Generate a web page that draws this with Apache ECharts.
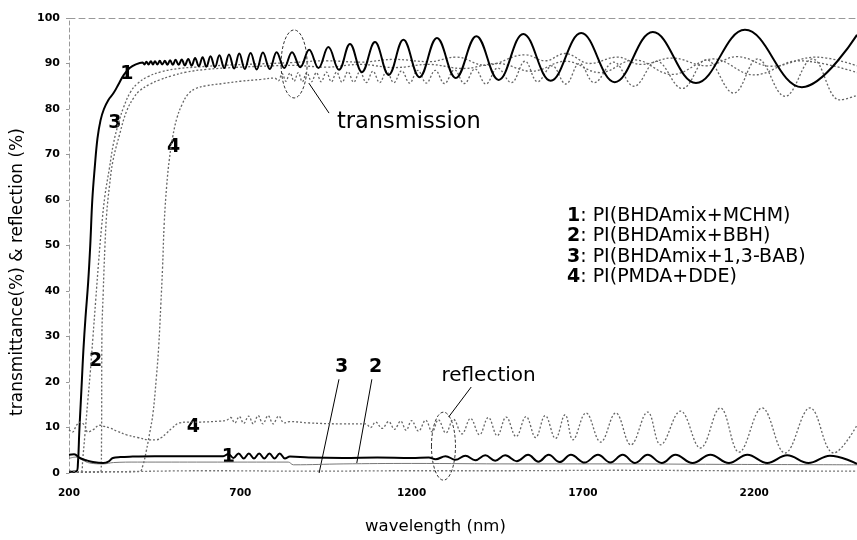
<!DOCTYPE html>
<html><head><meta charset="utf-8">
<script src="https://cdn.jsdelivr.net/npm/echarts@6/dist/echarts.min.js"></script>
<style>html,body{margin:0;padding:0;background:#fff}#c{width:857px;height:540px}</style>
</head><body><div id="c"></div>
<script>
// ---- data (wavelength nm, percent) ----
const xTicks = [200, 700, 1200, 1700, 2200];
const legendNames = ['1: PI(BHDAmix+MCHM)', '2: PI(BHDAmix+BBH)', '3: PI(BHDAmix+1,3-BAB)', '4: PI(PMDA+DDE)'];

const t1 = [[200,0.3],[222,0.4],[226,2],[230,9],[234,15],[238,21],[242,27],[248,34],[256,42],[262,50],[268,60],[275,67],[283,73.5],[292,77.5],[302,80],[315,82],[330,83.5],[345,85.5],[360,87.5],[377,89],[395,89.8],
[415,90.2],[420,89.8],[426,90.4],[432,89.8],[439,90.5],[445,89.8],[451,90.5],[458,89.8],[465,90.6],[472,89.8],[480,90.6],[487,89.7],[495,90.7],[503,89.7],[511,90.8],[520,89.7],[529,90.9],[538,89.6],[548,91.0],[558,89.5],[568,91.2],[579,89.4],[590,91.4],[601,89.3],[613,91.6],[626,89.2],[639,91.8],[653,89.0],[667,92.0],[682,88.9],[697,92.2],[713,88.8],[730,92.3],[748,88.7],[766,92.4],[786,88.8],[806,92.5],[828,89.0],
[851,92.5],[875,89.2],[901,93],[928,89],[957,93.6],[988,88.6],[1020,94.3],[1055,88.1],[1093,94.7],[1133,87.5],[1176,95.2],[1223,87],[1274,95.6],[1329,86.8],[1389,96],[1454,86.4],[1526,96.5],[1606,86.2],[1695,96.7],[1793,85.9],[1904,96.9],[2030,85.7],[2173,97.4],[2339,84.8],[2500,96.3]];

const t2 = [[200,0.2],[236,0.3],[240,3],[246,8],[255,16],[262,22],[270,30],[278,38],[286,46],[295,54],[305,61],[318,67],[330,72.5],[345,77],[360,80.5],[380,83.8],[400,85.6],[430,87.1],[470,88.2],[520,88.9],[570,89.2],[650,89.6],[750,89.9],[850,90.2],
[950,90.6],[1050,90.3],[1150,90.9],[1250,90.4],[1330,91.4],[1415,89.6],[1531,91.9],[1590,90.6],[1648,92.2],[1720,90],[1800,91.4],[1870,89.8],[1960,91.2],[2060,89.5],[2150,91.5],[2250,89.4],[2380,91.4],[2500,89.5]];

const t3 = [[200,0.2],[293,0.3],[295,8],[296,30],[300,40],[305,50],[310,57],[318,63],[328,68.5],[348,74.5],[368,79.5],[390,82.6],[406,84],[435,85.4],[465,86.4],[500,87.3],[542,88.1],[600,88.7],[700,89.2],[800,89.5],[850,89.6],
[950,89.2],[1050,89.8],[1150,89.1],[1250,89.8],[1350,88.9],[1450,90],[1550,88.3],[1650,90.5],[1750,88],[1850,90.8],[1960,87.6],[2080,91],[2200,87.5],[2330,90.6],[2500,88]];

const t4 = [[200,0.2],[405,0.3],[415,1.5],[426,5],[436,9],[445,13],[455,21],[462,28],[468,37],[473,45],[478,55],[485,63],[493,69],[503,74],[515,78],[530,81],[548,83.3],[570,84.5],[600,85.1],[650,85.6],[700,86.1],[760,86.5],[800,86.8],
[811,86.2],[822,87.8],[833,86.1],[845,87.9],[857,86.1],[869,88],[881,86],[894,88],[908,86],[922,88],[936,86],[951,88.1],[966,86],[981,88.1],[997,85.9],[1014,88.2],[1031,85.9],[1049,88.2],[1068,85.8],[1087,88.3],[1107,85.8],[1127,88.3],[1148,85.8],[1171,88.4],[1194,85.7],[1218,88.5],[1243,85.7],[1269,88.5],[1296,85.6],[1325,88.6],[1354,85.6],[1385,88.8],[1417,85.5],[1451,89],[1491,85.8],[1531,90.5],[1568,86],[1610,89.5],[1650,85.5],[1690,90],[1733,85.8],[1790,90.3],[1849,85],[1915,90.5],[1990,84.5],[2060,90.8],[2140,83.5],[2210,91],[2290,82.8],[2370,91],[2450,82],[2500,83]];

const r1 = [[200,4],[215,4.1],[232,3.3],[250,2.8],[270,2.4],[300,2.2],[315,2.5],[328,3.3],[350,3.5],[386,3.6],[450,3.7],[550,3.7],[650,3.7],
[665,4.2],[680,3.3],[695,4.3],[710,3.2],[725,4.3],[740,3.2],[755,4.3],[770,3.2],[785,4.3],[800,3.2],[815,4.3],[830,3.2],[845,3.6],[900,3.4],[1000,3.3],[1100,3.4],[1200,3.3],[1250,3.4],
[1270,3.0],[1299,3.7],[1328,2.9],[1357,3.8],[1386,2.8],[1415,3.9],[1444,2.7],[1473,3.9],[1507,2.6],[1540,4.0],[1570,2.5],[1600,4.0],[1632,2.4],[1665,4.0],[1705,2.3],[1744,4.0],[1780,2.3],[1816,4.0],[1852,2.2],[1889,4.0],[1930,2.2],[1970,4.0],[2020,2.2],[2072,4.0],[2126,2.2],[2180,4.0],[2238,2.2],[2296,3.9],[2358,2.2],[2421,3.8],[2500,2.0]];

const r2 = [[200,3.2],[220,3.5],[240,2.8],[260,2.2],[300,2.0],[330,2.3],[400,2.4],[600,2.4],[840,2.4],[855,1.8],[1000,2.0],[1200,2.1],[1500,2.0],[1800,2.0],[2100,1.9],[2500,1.8]];

const r3 = [[200,0.5],[230,0.3],[300,0.3],[600,0.5],[900,0.4],[1200,0.5],[1500,0.5],[1800,0.6],[2100,0.5],[2500,0.4]];

const r4 = [[200,9.5],[210,9],[222,10.5],[232,11.2],[245,10.5],[255,9],[270,9.5],[290,10.5],[300,10.3],[319,9.9],[340,9.2],[368,8.4],[400,7.8],[435,7.3],[455,7.3],[470,7.8],[484,8.7],[500,9.8],[522,11],[550,11.2],[581,11.2],[640,11.4],[660,11.6],
[672,12.2],[684,11],[697,12.4],[710,10.9],[724,12.5],[738,10.8],[752,12.6],[766,10.8],[781,12.6],[796,10.8],[812,12.5],[828,11],[845,11.3],[900,11],[1000,10.8],[1066,10.8],
[1080,10],[1095,11.2],[1114,9.8],[1133,11.3],[1150,9.6],[1168,11.4],[1184,9.4],[1200,11.5],[1220,9.2],[1241,11.6],[1260,9.0],[1278,11.7],[1300,8.8],[1322,11.8],[1347,8.6],[1372,12],[1398,8.4],[1424,12.2],[1450,8.2],[1476,12.3],[1505,8.0],[1534,12.4],[1562,7.8],[1590,12.6],[1620,7.6],[1648,12.8],[1671,7.3],[1709,13.2],[1752,6.8],[1796,13.2],[1840,6.2],[1889,13.4],[1927,6.2],[1985,13.6],[2043,5.5],[2101,14.3],[2156,4.6],[2223,14.3],[2290,4.4],[2363,14.3],[2432,4.4],[2500,10.5]];

// annotation anchors in data coordinates [nm, %]
const curveLabels = [
  {t:'1', at:[369,87.7]}, {t:'3', at:[334,76.9]}, {t:'4', at:[505,71.6]}, {t:'2', at:[278,24.6]},
  {t:'4', at:[563,10.1]}, {t:'1', at:[665,3.6]}, {t:'3', at:[996,23.3]}, {t:'2', at:[1095,23.3]}
];
const leaders = [
  [[900,85.7],[959,79.1]], [[1308,12.3],[1374,18.9]], [[988,20.6],[930,0]], [[1084,20.6],[1040,2.2]]
];
const ellipses = [{c:[857,89.9], rx:13, ry:34}, {c:[1293,5.9], rx:12, ry:34}];
const notes = [{t:'transmission', at:[982,77.1], size:22.5}, {t:'reflection', at:[1287,21.3], size:20}];

const FONT = 'DejaVu Sans';
const chart = echarts.init(document.getElementById('c'));
const dotted = (name, data, color) => ({
  name, type:'line', data, showSymbol:false, smooth:0.4, animation:false,
  lineStyle:{color: color || '#555', width:1.3, type:[2,2]}, itemStyle:{color: color || '#555'}
});
const solid = (name, data) => ({
  name, type:'line', data, showSymbol:false, smooth:0.4, animation:false,
  lineStyle:{color:'#000', width:2}, itemStyle:{color:'#000'}
});
chart.setOption({
  animation:false,
  backgroundColor:'#fff',
  grid:{left:69, top:18, width:791, height:455},
  legend:{
    data:legendNames, orient:'vertical', left:557, top:201, icon:'none', itemWidth:0, itemGap:0.5,
    selectedMode:false,
    formatter: n => '{b|' + n.split(':')[0] + '}:' + n.slice(n.indexOf(':')+1),
    textStyle:{fontFamily:FONT, fontSize:19, color:'#000', lineHeight:20,
      rich:{b:{fontFamily:FONT, fontSize:19, fontWeight:'bold', color:'#000', lineHeight:20}}}
  },
  xAxis:[{
    type:'value', min:200, max:2500,
    name:'wavelength (nm)', nameLocation:'middle', nameGap:45,
    nameTextStyle:{fontFamily:FONT, fontSize:16.5, color:'#000', padding:[0,55,0,0]},
    axisLine:{show:false}, axisTick:{show:false}, splitLine:{show:false},
    axisLabel:{customValues:xTicks, formatter: v => String(v), fontFamily:FONT, fontWeight:'bold', fontSize:10.5, color:'#000', margin:15}
  },{
    type:'value', min:200, max:2500, position:'top',
    axisLine:{show:true, onZero:false, lineStyle:{color:'#999', width:1, type:[6,4]}},
    axisTick:{show:false}, axisLabel:{show:false}, splitLine:{show:false}
  }],
  yAxis:{
    type:'value', min:0, max:100, interval:10,
    name:'transmittance(%) & reflection (%)', nameLocation:'middle', nameGap:30,
    nameTextStyle:{fontFamily:FONT, fontSize:17, color:'#000', padding:[0,53,0,0]},
    axisLine:{show:true, lineStyle:{color:'#999', width:1, type:[4,3]}},
    axisTick:{show:true, length:3, lineStyle:{color:'#999'}},
    splitLine:{show:false},
    axisLabel:{formatter: v => String(v), fontFamily:FONT, fontWeight:'bold', fontSize:11, color:'#000', margin:9}
  },
  series:[
    dotted(legendNames[3], t4, '#666'),
    dotted(legendNames[2], t3, '#666'),
    dotted(legendNames[1], t2, '#666'),
    solid(legendNames[0], t1),
    dotted('R4', r4, '#666'),
    dotted('R3', r3, '#777'),
    {name:'R2', type:'line', data:r2, showSymbol:false, smooth:0.4, lineStyle:{color:'#777', width:1}},
    solid('R1', r1)
  ]
});

function px(p){ return chart.convertToPixel({gridIndex:0}, p); }
const g = [];
curveLabels.forEach(l => {
  const p = px(l.at);
  g.push({type:'text', x:p[0], y:p[1], style:{text:l.t, fontFamily:FONT, fontSize:19, fontWeight:'bold', fill:'#000', align:'center', verticalAlign:'middle'}});
});
leaders.forEach(s => {
  const a = px(s[0]), b = px(s[1]);
  g.push({type:'line', shape:{x1:a[0], y1:a[1], x2:b[0], y2:b[1]}, style:{stroke:'#000', lineWidth:1}});
});
ellipses.forEach(e => {
  const c = px(e.c);
  g.push({type:'ellipse', shape:{cx:c[0], cy:c[1], rx:e.rx, ry:e.ry}, style:{fill:null, stroke:'#333', lineWidth:1, lineDash:[3,2]}});
});
notes.forEach(n => {
  const p = px(n.at);
  g.push({type:'text', x:p[0], y:p[1], style:{text:n.t, fontFamily:FONT, fontSize:n.size, fill:'#000', align:'left', verticalAlign:'middle'}});
});
chart.setOption({graphic:g});
</script></body></html>
